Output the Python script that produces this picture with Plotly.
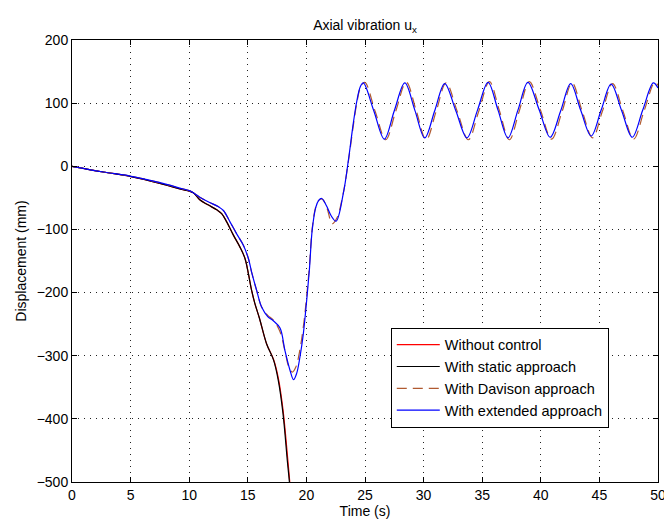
import plotly.graph_objects as go

# ---- data ----
t_nc = [0, 2.67, 4.95, 7.5, 9.2, 10.35, 10.9, 11.6, 12.35, 12.77, 13.2, 13.77, 14.33, 14.76, 15.05,
        15.33, 15.6, 16.0, 16.6, 17.2, 17.6, 18.0, 18.4, 18.58, 18.85]
u_nc = [0, -9, -16, -27, -36, -42, -53, -61, -69, -75, -88, -109, -128, -146, -170,
        -197, -217, -241, -281, -306, -335, -385, -462, -500, -560]

t_st = [0, 2.67, 4.95, 7.5, 9.2, 10.35, 10.9, 11.6, 12.35, 12.77, 13.2, 13.77, 14.33, 14.76, 15.05,
        15.33, 15.6, 16.0, 16.6, 17.2, 17.6, 18.0, 18.37, 18.55, 18.8]
u_st = [0, -9, -16, -27, -36, -42, -53, -61, -69, -75, -88, -109, -128, -146, -170,
        -197, -217, -241, -281, -307, -339, -391, -466, -500, -560]

t_dv = [0, 2.67, 4.95, 7.5, 9.2, 10.07, 10.9, 11.7, 12.5, 12.92, 13.48, 14.05, 14.62, 15.05, 15.33,
        15.76, 16.18, 16.7, 17.2, 17.75, 18.2, 18.5, 18.8, 19.1, 19.45, 19.8, 20.0, 20.25, 20.5,
        20.8, 21.05, 21.35, 21.75, 22.2, 22.6, 23.15, 23.6, 24.0, 24.3, 24.6, 24.98,
        25.87, 26.77, 27.62, 28.52, 29.37, 30.22, 31.07, 31.92, 32.87, 33.82, 34.72, 35.62,
        36.47, 37.32, 38.17, 39.02, 39.97, 40.92, 41.82, 42.67, 43.52, 44.42, 45.27, 46.12,
        47.02, 47.92, 48.82, 49.72, 50]
u_dv = [0, -9, -15.5, -26, -34.5, -39, -49, -57, -64, -70, -88, -107, -125, -146, -168,
        -197, -223, -236, -244, -262, -295, -318, -326, -318, -290, -245, -210, -160, -98,
        -64, -54, -52, -66, -91, -82, -42, 10, 64, 100, 124, 133,
        87, 42, 87, 133, 88, 42, 87, 132, 87, 42, 88, 134,
        88, 42, 88, 134, 89, 43, 87, 132, 88, 45, 88, 131,
        87, 43, 88, 133, 128]

t_ex = [0, 2.67, 4.95, 7.5, 9.2, 10.07, 10.9, 11.7, 12.5, 12.92, 13.48, 14.05, 14.62, 15.05, 15.33,
        15.76, 16.18, 16.7, 17.2, 17.75, 18.17, 18.6, 18.9, 19.17, 19.45, 19.74, 20.0, 20.25, 20.5,
        20.8, 21.05, 21.3, 21.7, 22.1, 22.53, 23.15, 23.6, 24.0, 24.3, 24.6, 24.86,
        25.75, 26.65, 27.5, 28.4, 29.25, 30.1, 30.95, 31.8, 32.75, 33.7, 34.6, 35.5,
        36.35, 37.2, 38.05, 38.9, 39.85, 40.8, 41.7, 42.55, 43.4, 44.3, 45.15, 46.0,
        46.9, 47.8, 48.7, 49.6, 50]
u_ex = [0, -9, -15.5, -26, -34.5, -39, -49, -57, -64, -70, -88, -107, -125, -146, -168,
        -197, -223, -238, -245, -256, -292, -323, -338, -328, -302, -265, -217, -165, -100,
        -65, -54, -51, -62, -78, -87, -43, 12, 68, 103, 126, 132,
        88, 43, 88, 132, 89, 45, 88, 131, 88, 45, 89, 133,
        89, 45, 89, 133, 90, 46, 88, 131, 89, 48, 89, 130,
        88, 46, 89, 132, 124]

names = ["Without control", "With static approach", "With Davison approach", "With extended approach"]

x_ticks = [0, 5, 10, 15, 20, 25, 30, 35, 40, 45, 50]
y_ticks = [-500, -400, -300, -200, -100, 0, 100, 200]

FONT = "Liberation Sans, Arial, Helvetica, sans-serif"

fig = go.Figure()
fig.add_trace(go.Scatter(x=t_nc, y=u_nc, mode="lines", name=names[0],
                         line=dict(color="#ff0000", width=1.2, shape="spline", smoothing=1)))
fig.add_trace(go.Scatter(x=t_st, y=u_st, mode="lines", name=names[1],
                         line=dict(color="#000000", width=1.2, shape="spline", smoothing=1)))
fig.add_trace(go.Scatter(x=t_dv, y=u_dv, mode="lines", name=names[2],
                         line=dict(color="#b05a30", width=1.2, dash="10px,6px", shape="spline", smoothing=1)))
fig.add_trace(go.Scatter(x=t_ex, y=u_ex, mode="lines", name=names[3],
                         line=dict(color="#0000ff", width=1.2, shape="spline", smoothing=1)))

axis_common = dict(
    showline=True, linecolor="black", linewidth=1, mirror="ticks",
    ticks="inside", ticklen=5, tickwidth=1, tickcolor="black",
    showgrid=True, gridcolor="#222222", gridwidth=1, griddash="1px,5px",
    zeroline=False, tickfont=dict(family=FONT, size=14, color="black"),
    ticklabeloverflow="allow",
)

fig.update_xaxes(range=[0, 50], tickvals=x_ticks, **axis_common,
                 title=dict(text="Time (s)", font=dict(family=FONT, size=14, color="black"), standoff=4))
fig.update_yaxes(range=[-500, 200], tickvals=y_ticks, **axis_common,
                 title=dict(text="Displacement (mm)", font=dict(family=FONT, size=14, color="black"), standoff=6))

fig.update_layout(
    width=664, height=525,
    margin=dict(l=72, r=6, t=40, b=43, autoexpand=False),
    paper_bgcolor="white", plot_bgcolor="white",
    font=dict(family=FONT, size=14, color="black"),
    title=dict(text="Axial vibration u<sub>x</sub>", x=(72 + 293) / 664, xanchor="center",
               y=1 - 25 / 525, yanchor="middle", font=dict(family=FONT, size=14, color="black")),
    legend=dict(x=0.544, y=0.349, xanchor="left", yanchor="top",
                bordercolor="black", borderwidth=1, bgcolor="white", itemwidth=43,
                font=dict(family=FONT, size=14.5, color="black"), tracegroupgap=0),
    showlegend=True,
)

fig.write_html("out.html")
